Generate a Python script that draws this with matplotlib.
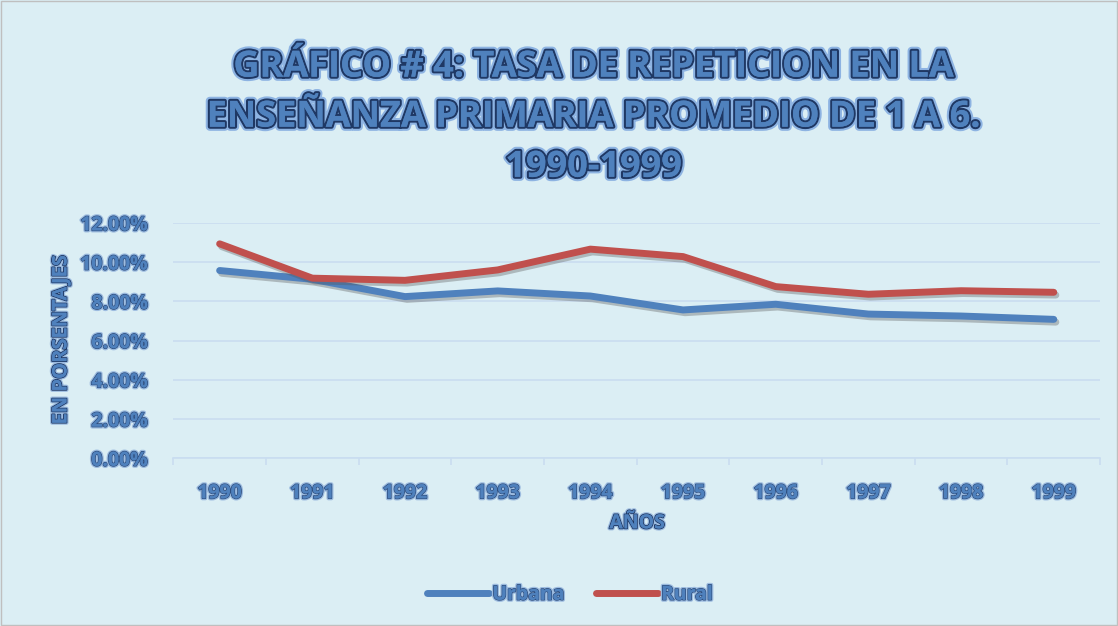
import numpy as np
import matplotlib.pyplot as plt
import matplotlib.patheffects as pe
from matplotlib.ticker import PercentFormatter, FixedLocator

# Data
years = ["1990", "1991", "1992", "1993", "1994", "1995", "1996", "1997", "1998", "1999"]
urbana = [9.57, 9.12, 8.24, 8.53, 8.27, 7.56, 7.85, 7.35, 7.25, 7.08]
rural = [10.93, 9.18, 9.07, 9.60, 10.66, 10.28, 8.75, 8.36, 8.54, 8.46]

BG = "#DBEEF4"
BLUE = "#4F81BD"
RED = "#C0504D"
NAVY = "#1F3864"

plt.rcParams['font.family'] = ['Open Sans', 'DejaVu Sans']

fig = plt.figure(figsize=(11.18, 6.26), dpi=100, facecolor=BG)
ax = fig.add_axes([0.155, 0.268, 0.829, 0.376], facecolor=BG)

x = np.arange(len(years))
shadow = [pe.SimpleLineShadow(offset=(1.5, -2), shadow_color="#555555", alpha=0.35), pe.Normal()]
ax.plot(x, np.array(urbana) / 100, color=BLUE, lw=5, solid_capstyle='round',
        solid_joinstyle='round', label="Urbana", path_effects=shadow)
ax.plot(x, np.array(rural) / 100, color=RED, lw=5, solid_capstyle='round',
        solid_joinstyle='round', label="Rural", path_effects=shadow)

ax.set_xlim(-0.5, len(years) - 0.5)
ax.set_ylim(0, 0.12)
ax.set_yticks(np.arange(0, 0.121, 0.02))
ax.yaxis.set_major_formatter(PercentFormatter(1.0, decimals=2))
ax.set_xticks(x)
ax.set_xticklabels(years)
ax.xaxis.set_minor_locator(FixedLocator(np.arange(-0.5, len(years), 1)))
ax.grid(axis='y', color="#C9DDF0", lw=1.2)
ax.set_axisbelow(True)
for s in ['top', 'right', 'left']:
    ax.spines[s].set_visible(False)
ax.spines['bottom'].set_color("#C9DDF0")
ax.spines['bottom'].set_linewidth(1.2)
ax.tick_params(axis='y', length=0, pad=18)
ax.tick_params(axis='x', which='major', length=0, pad=18)
ax.tick_params(axis='x', which='minor', length=5, color="#C9DDF0", width=1.2)

tick_fx = [pe.withStroke(linewidth=3, foreground="#9DBCE0"), pe.withStroke(linewidth=1.2, foreground="#2F4F7F"), pe.Normal()]
for lab in ax.get_yticklabels() + ax.get_xticklabels():
    lab.set_fontsize(14)
    lab.set_fontweight('bold')
    lab.set_color(BLUE)
    lab.set_path_effects(tick_fx)

title_fx = [pe.withStroke(linewidth=6, foreground="#8DB3E2"), pe.withStroke(linewidth=3, foreground=NAVY), pe.Normal()]
fig.text(0.531, 0.812, "GRÁFICO # 4: TASA DE REPETICION EN LA\nENSEÑANZA PRIMARIA PROMEDIO DE 1 A 6.\n1990-1999",
         ha='center', va='center', fontsize=26, fontweight='bold', color=BLUE,
         linespacing=1.52, path_effects=title_fx)

label_fx = [pe.withStroke(linewidth=3, foreground="#9DBCE0"), pe.withStroke(linewidth=1.3, foreground=NAVY), pe.Normal()]
fig.text(0.055, 0.457, "EN PORSENTAJES", rotation=90, ha='center', va='center',
         fontsize=14.5, fontweight='bold', color=BLUE, path_effects=label_fx)
fig.text(0.57, 0.164, "AÑOS", ha='center', va='center',
         fontsize=14, fontweight='bold', color=BLUE, path_effects=label_fx)

leg = fig.legend(loc='center', bbox_to_anchor=(0.51, 0.05), ncol=2, frameon=False,
                 fontsize=14, handlelength=3.2, columnspacing=1.6, handletextpad=0.15)
for t in leg.get_texts():
    t.set_color(BLUE)
    t.set_fontweight('bold')
    t.set_path_effects(tick_fx)
for h in leg.get_lines():
    h.set_linewidth(5)
    h.set_path_effects([])

fig.patches.append(plt.Rectangle((0.001, 0.001), 0.998, 0.998, transform=fig.transFigure,
                                 fill=False, edgecolor="#BFBFBF", lw=1))

fig.savefig("out.png", dpi=100, facecolor=BG)
